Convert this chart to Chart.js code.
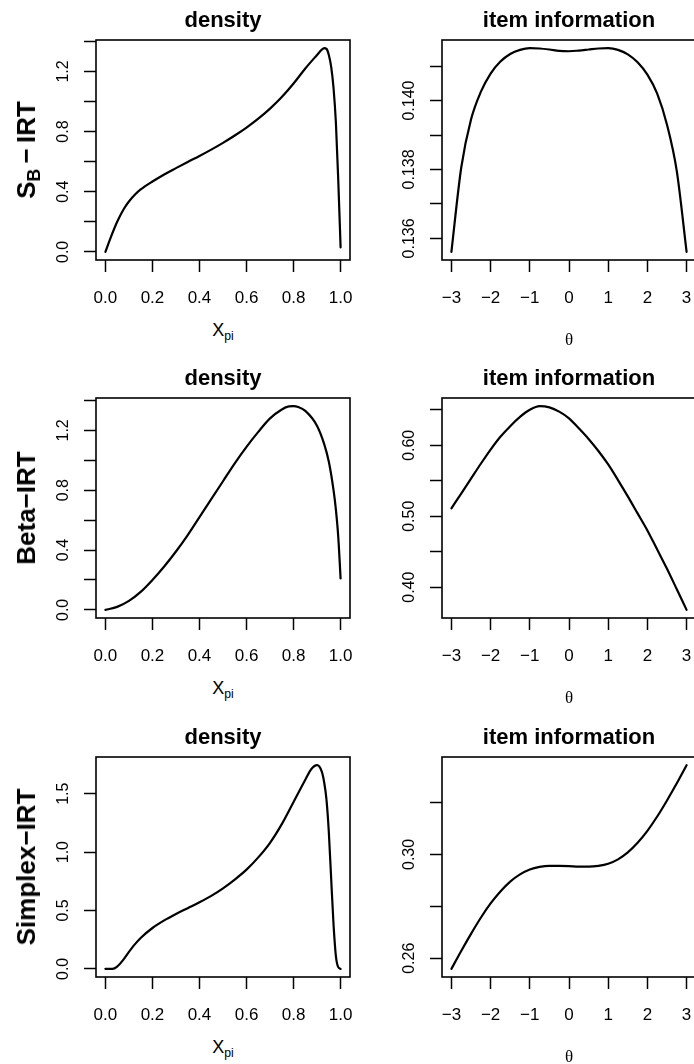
<!DOCTYPE html>
<html>
<head>
<meta charset="utf-8">
<script src="https://cdn.jsdelivr.net/npm/chart.js@4.4.1/dist/chart.umd.min.js"></script>
<style>
  html, body { margin: 0; padding: 0; background: #fff; }
  body { width: 694px; height: 1064px; overflow: hidden; position: relative;
         font-family: "Liberation Sans", Arial, sans-serif; color: #000; }
  canvas { position: absolute; }
  .lbl { position: absolute; white-space: nowrap; line-height: 1; }
  .ttl { font-weight: bold; font-size: 22px; text-align: center; width: 300px; }
  .row { font-weight: bold; font-size: 26px; transform: translate(-50%, -50%) rotate(-90deg); }
  .xt  { font-size: 18px; text-align: center; width: 100px; }
  .th  { font-family: "Liberation Serif", serif; font-size: 17px; text-align: center; width: 100px; }
  sub  { font-size: 0.68em; vertical-align: -0.3em; line-height: 0; }
</style>
</head>
<body>
<script>
/* ---- data ---- */
// S_B-IRT
const sbDensX = [0, 0.02, 0.05, 0.08, 0.1, 0.125, 0.15, 0.2, 0.25, 0.3, 0.35, 0.4, 0.45, 0.5, 0.55, 0.6, 0.65, 0.7, 0.75, 0.8, 0.85, 0.9, 0.92, 0.93, 0.94, 0.95, 0.96, 0.97, 0.98, 0.99, 1.0];
const sbDensY = [0, 0.085, 0.2, 0.29, 0.335, 0.38, 0.415, 0.468, 0.515, 0.557, 0.598, 0.638, 0.68, 0.725, 0.774, 0.827, 0.886, 0.953, 1.03, 1.12, 1.22, 1.31, 1.345, 1.355, 1.35, 1.31, 1.23, 1.09, 0.86, 0.48, 0.03];
const sbInfoT = [-3, -2.75, -2.5, -2.25, -2, -1.75, -1.5, -1.25, -1, -0.75, -0.5, -0.25, 0, 0.25, 0.5, 0.75, 1, 1.25, 1.5, 1.75, 2, 2.25, 2.5, 2.75, 3];
const sbInfoY = [0.13561, 0.13805, 0.13945, 0.14025, 0.14078, 0.14113, 0.14135, 0.14147, 0.14152, 0.14151, 0.14148, 0.14144, 0.14143, 0.14145, 0.14148, 0.14151, 0.14152, 0.14147, 0.14134, 0.14111, 0.14075, 0.1402, 0.1393, 0.13795, 0.13561];
// Beta-IRT
const betaDensX = [0, 0.05, 0.1, 0.15, 0.2, 0.25, 0.3, 0.35, 0.4, 0.45, 0.5, 0.55, 0.6, 0.65, 0.7, 0.75, 0.78, 0.8, 0.82, 0.85, 0.9, 0.93, 0.95, 0.97, 0.98, 0.99, 1.0];
const betaDensY = [0, 0.02, 0.06, 0.12, 0.2, 0.29, 0.39, 0.5, 0.62, 0.74, 0.86, 0.98, 1.09, 1.19, 1.28, 1.34, 1.36, 1.362, 1.356, 1.33, 1.23, 1.11, 0.99, 0.8, 0.67, 0.49, 0.21];
const betaInfoT = [-3, -2.75, -2.5, -2.25, -2, -1.75, -1.5, -1.25, -1, -0.75, -0.5, -0.25, 0, 0.25, 0.5, 0.75, 1, 1.25, 1.5, 1.75, 2, 2.25, 2.5, 2.75, 3];
const betaInfoY = [0.511, 0.532, 0.553, 0.574, 0.594, 0.612, 0.627, 0.640, 0.650, 0.6552, 0.6535, 0.6475, 0.638, 0.624, 0.609, 0.592, 0.573, 0.551, 0.528, 0.504, 0.480, 0.453, 0.426, 0.397, 0.368];
// Simplex-IRT
const simDensX = [0, 0.03, 0.05, 0.075, 0.1, 0.125, 0.15, 0.2, 0.25, 0.3, 0.35, 0.4, 0.45, 0.5, 0.55, 0.6, 0.65, 0.7, 0.75, 0.8, 0.85, 0.875, 0.9, 0.92, 0.93, 0.94, 0.95, 0.96, 0.97, 0.98, 0.99, 1.0];
const simDensY = [0, 0, 0.02, 0.075, 0.145, 0.21, 0.265, 0.35, 0.415, 0.47, 0.52, 0.57, 0.625, 0.69, 0.765, 0.85, 0.955, 1.08, 1.24, 1.43, 1.62, 1.71, 1.745, 1.69, 1.6, 1.45, 1.17, 0.77, 0.38, 0.11, 0.015, 0];
const simInfoT = [-3, -2.75, -2.5, -2.25, -2, -1.75, -1.5, -1.25, -1, -0.75, -0.5, -0.25, 0, 0.25, 0.5, 0.75, 1, 1.25, 1.5, 1.75, 2, 2.25, 2.5, 2.75, 3];
const simInfoY = [0.2559, 0.2628, 0.2694, 0.2756, 0.2811, 0.2857, 0.2895, 0.2923, 0.2942, 0.2952, 0.2956, 0.2956, 0.2955, 0.2953, 0.2953, 0.2956, 0.2964, 0.2981, 0.3008, 0.3045, 0.3091, 0.3146, 0.3208, 0.3274, 0.3344];

/* ---- ticks ---- */
const densXTicks = [0, 0.2, 0.4, 0.6, 0.8, 1.0];
const densXLabels = ['0.0', '0.2', '0.4', '0.6', '0.8', '1.0'];
const thetaTicks = [-3, -2, -1, 0, 1, 2, 3];
const thetaLabels = ['\u22123', '\u22122', '\u22121', '0', '1', '2', '3'];
const dens14Ticks = [0, 0.2, 0.4, 0.6, 0.8, 1.0, 1.2, 1.4];
const dens14Labels = ['0.0', '', '0.4', '', '0.8', '', '1.2', ''];
const sbInfoTicks = [0.136, 0.137, 0.138, 0.139, 0.140, 0.141];
const sbInfoLabels = ['0.136', '', '0.138', '', '0.140', ''];
const betaInfoTicks = [0.40, 0.45, 0.50, 0.55, 0.60, 0.65];
const betaInfoLabels = ['0.40', '', '0.50', '', '0.60', ''];
const simDensTicks = [0, 0.5, 1.0, 1.5];
const simDensLabels = ['0.0', '0.5', '1.0', '1.5'];
const simInfoTicks = [0.26, 0.28, 0.30, 0.32];
const simInfoLabels = ['0.26', '', '0.30', ''];

const rowNames = ['S<sub>B</sub>\u2009\u2212\u2009IRT', 'Beta\u2212IRT', 'Simplex\u2212IRT'];

/* ---- layout ---- */
const FONT = '"Liberation Sans", Arial, sans-serif';
const boxTops = [40, 398, 757];
const BOX_H = 220;
const cols = [
  { left: 0,   padL: 56, padR: 10, boxL: 96,  boxR: 350 },
  { left: 360, padL: 42, padR: 24, boxL: 442, boxR: 696 }
];

// R-style axis range: data range stretched by 4% each side
function rRange(v) {
  const lo = Math.min(...v), hi = Math.max(...v), d = (hi - lo) * 0.04;
  return [lo - d, hi + d];
}

const boxPlugin = {
  id: 'rbox',
  afterDraw(chart) {
    const { ctx, chartArea: a } = chart;
    const yl = chart.options.plugins.rbox.yLabels;
    const ys = chart.scales.y;
    ctx.save();
    ctx.strokeStyle = '#000';
    ctx.lineWidth = 1.6;
    ctx.strokeRect(a.left, a.top, a.right - a.left, a.bottom - a.top);
    ctx.fillStyle = '#000';
    ctx.font = '16px ' + FONT;
    ctx.textAlign = 'center';
    ctx.textBaseline = 'middle';
    ys.ticks.forEach((t, i) => {
      if (!yl[i]) return;
      const py = ys.getPixelForValue(t.value);
      ctx.save();
      ctx.translate(a.left - 32, py);
      ctx.rotate(-Math.PI / 2);
      ctx.fillText(yl[i], 0, 0);
      ctx.restore();
    });
    ctx.restore();
  }
};

function addLabel(cls, html, left, top) {
  const d = document.createElement('div');
  d.className = 'lbl ' + cls;
  d.innerHTML = html;
  d.style.left = left + 'px';
  d.style.top = top + 'px';
  document.body.appendChild(d);
}

function panel(row, colIdx, xs, ys, xTicks, xLabels, yTicks, yLabels) {
  const col = cols[colIdx];
  const cv = document.createElement('canvas');
  cv.width = 360; cv.height = 320;
  cv.style.left = col.left + 'px';
  cv.style.top = (boxTops[row] - 40) + 'px';
  cv.style.width = '360px'; cv.style.height = '320px';
  document.body.appendChild(cv);

  const xr = rRange(xs), yr = rRange(ys);
  new Chart(cv, {
    type: 'line',
    data: { datasets: [{
      data: xs.map((x, i) => ({ x, y: ys[i] })),
      borderColor: '#000', borderWidth: 2.2, pointRadius: 0, fill: false,
      cubicInterpolationMode: 'monotone', borderCapStyle: 'round', borderJoinStyle: 'round'
    }] },
    options: {
      responsive: false, animation: false, devicePixelRatio: 1,
      layout: { padding: { left: col.padL, right: col.padR, top: 40, bottom: 0 } },
      plugins: { legend: { display: false }, tooltip: { enabled: false }, rbox: { yLabels } },
      scales: {
        x: {
          type: 'linear', position: 'bottom', min: xr[0], max: xr[1],
          afterBuildTicks: s => { s.ticks = xTicks.map(v => ({ value: v })); },
          afterFit: s => { s.height = 60; s.paddingLeft = 0; s.paddingRight = 0; },
          grid: { drawOnChartArea: false, drawTicks: true, tickLength: 12, tickWidth: 1.5, tickColor: '#000' },
          border: { display: false },
          ticks: { autoSkip: false, minRotation: 0, maxRotation: 0, padding: 16, color: '#000',
                   font: { family: FONT, size: 17 }, callback: (v, i) => xLabels[i] }
        },
        y: {
          type: 'linear', position: 'left', min: yr[0], max: yr[1],
          afterBuildTicks: s => { s.ticks = yTicks.map(v => ({ value: v })); },
          afterFit: s => { s.width = 40; s.paddingTop = 0; s.paddingBottom = 0; },
          grid: { drawOnChartArea: false, drawTicks: true, tickLength: 12, tickWidth: 1.5, tickColor: '#000' },
          border: { display: false },
          ticks: { autoSkip: false, padding: 2, color: '#000', font: { family: FONT, size: 15 }, callback: () => '' }
        }
      }
    },
    plugins: [boxPlugin]
  });

  const cx = (col.boxL + col.boxR) / 2;
  const top = boxTops[row], bottom = top + BOX_H;
  addLabel('ttl', colIdx === 0 ? 'density' : 'item information', cx - 150, top - 31.5);
  if (colIdx === 0) {
    addLabel('xt', 'X<sub>pi</sub>', cx - 50, bottom + 61);
    addLabel('row', rowNames[row], 26, top + BOX_H / 2);
  } else {
    addLabel('th', '\u03b8', cx - 50, bottom + 71);
  }
}

panel(0, 0, sbDensX, sbDensY, densXTicks, densXLabels, dens14Ticks, dens14Labels);
panel(0, 1, sbInfoT, sbInfoY, thetaTicks, thetaLabels, sbInfoTicks, sbInfoLabels);
panel(1, 0, betaDensX, betaDensY, densXTicks, densXLabels, dens14Ticks, dens14Labels);
panel(1, 1, betaInfoT, betaInfoY, thetaTicks, thetaLabels, betaInfoTicks, betaInfoLabels);
panel(2, 0, simDensX, simDensY, densXTicks, densXLabels, simDensTicks, simDensLabels);
panel(2, 1, simInfoT, simInfoY, thetaTicks, thetaLabels, simInfoTicks, simInfoLabels);
</script>
</body>
</html>
